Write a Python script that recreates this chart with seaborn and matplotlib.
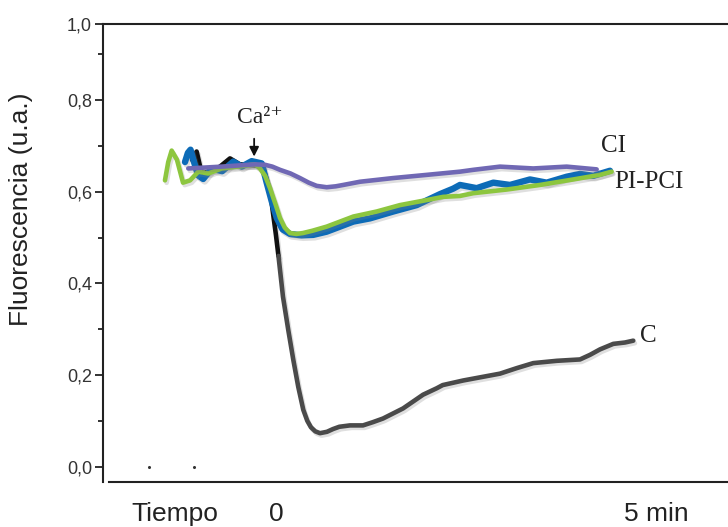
import matplotlib
matplotlib.use("Agg")
import matplotlib.pyplot as plt
import matplotlib.patheffects as pe
import seaborn as sns

# tiempo en minutos (0 = adición de Ca2+), fluorescencia en u.a.
ci_t = [-1.205, -0.746, -0.288, -0.15, -0.05, 0.055, 0.2, 0.33, 0.45, 0.559,
        0.696, 0.82, 0.924, 1.154, 1.607, 2.07, 2.527, 2.71, 3.077, 3.534,
        3.993, 4.405]
ci_v = [0.651, 0.655, 0.660, 0.659, 0.655, 0.648, 0.640, 0.630, 0.620, 0.613,
        0.610, 0.612, 0.615, 0.622, 0.630, 0.637, 0.644, 0.648, 0.655, 0.651,
        0.655, 0.649]

pcipc_t = [-1.525, -1.48, -1.433, -1.36, -1.277, -1.18, -1.067, -0.93, -0.746, -0.518,
           -0.288, -0.22, -0.15, -0.082, 0.0, 0.055, 0.12, 0.192, 0.28, 0.371,
           0.5, 0.696, 1.062, 1.383, 1.703, 2.07, 2.298, 2.527, 2.71, 3.169,
           3.626, 4.084, 4.45, 4.611]
pcipc_v = [0.625, 0.665, 0.690, 0.670, 0.620, 0.625, 0.644, 0.640, 0.651, 0.655,
           0.660, 0.651, 0.635, 0.608, 0.570, 0.543, 0.522, 0.510, 0.508, 0.510,
           0.515, 0.524, 0.546, 0.557, 0.571, 0.582, 0.589, 0.591, 0.597, 0.605,
           0.615, 0.627, 0.637, 0.644]

pi_t = [-1.25, -1.21, -1.174, -1.126, -1.07, -1.00, -0.883, -0.74, -0.587, -0.471,
        -0.334, -0.196, -0.128, -0.06, 0.01, 0.09, 0.192, 0.35, 0.512, 0.696,
        0.88, 1.062, 1.291, 1.611, 1.933, 2.253, 2.435, 2.527, 2.757, 2.985,
        3.214, 3.489, 3.718, 3.993, 4.176, 4.359, 4.588]
pi_v = [0.665, 0.685, 0.692, 0.665, 0.636, 0.628, 0.651, 0.645, 0.666, 0.655,
        0.667, 0.662, 0.620, 0.580, 0.543, 0.518, 0.508, 0.505, 0.506, 0.513,
        0.524, 0.535, 0.542, 0.557, 0.571, 0.595, 0.607, 0.615, 0.608, 0.620,
        0.615, 0.627, 0.620, 0.633, 0.639, 0.635, 0.646]

c_ini_t = [-1.154, -1.09, -1.02, -0.907, -0.77, -0.632, -0.495, -0.288, -0.18, -0.08, 0.0, 0.034]
c_ini_v = [0.670, 0.688, 0.640, 0.645, 0.655, 0.673, 0.660, 0.658, 0.655, 0.600, 0.505, 0.460]

c_t = [0.034, 0.096, 0.169, 0.238, 0.306, 0.375, 0.43, 0.48, 0.54, 0.604,
       0.70, 0.783, 0.87, 1.016, 1.195, 1.33, 1.47, 1.745, 2.02, 2.207,
       2.29, 2.57, 2.84, 3.077, 3.306, 3.534, 3.856, 4.176, 4.313, 4.451,
       4.633, 4.794, 4.908]
c_v = [0.460, 0.371, 0.298, 0.233, 0.174, 0.124, 0.100, 0.086, 0.077, 0.073,
       0.076, 0.082, 0.087, 0.090, 0.090, 0.097, 0.105, 0.127, 0.157, 0.171,
       0.178, 0.188, 0.196, 0.203, 0.215, 0.226, 0.231, 0.234, 0.244, 0.256,
       0.268, 0.271, 0.275]

ytick_vals = [0.0, 0.2, 0.4, 0.6, 0.8, 0.966]
ytick_labels = ["0,0", "0,2", "0,4", "0,6", "0,8", "1,0"]
yminor_vals = [0.1, 0.3, 0.5, 0.7, 0.9]
xtick_vals = [-1.39, 0.0, 5.23]
xtick_labels = ["Tiempo", "0", "5 min"]

sns.set_theme(style="white")
plt.rcParams['font.family'] = ['Liberation Sans', 'DejaVu Sans']
serif = ['Liberation Serif', 'DejaVu Serif']

fig = plt.figure(figsize=(7.28, 5.27), dpi=100)
ax = fig.add_axes([0.1415, 0.0846, 0.8585, 0.8695])

sombra = [pe.SimpleLineShadow(offset=(1.2, -1.8), shadow_color='0.5', alpha=0.25), pe.Normal()]
estilo = dict(sort=False, estimator=None, ax=ax, path_effects=sombra,
              solid_capstyle='round', solid_joinstyle='round')

# orden de dibujo: C abajo, luego PI, PCI-PI, CI encima
sns.lineplot(x=c_ini_t, y=c_ini_v, color='#111111', linewidth=3.3, **estilo)
sns.lineplot(x=c_t, y=c_v, color='#4a4a4a', linewidth=3.3, **estilo)
sns.lineplot(x=pi_t, y=pi_v, color='#0d6bb7', linewidth=4.6, **estilo)
sns.lineplot(x=pcipc_t, y=pcipc_v, color='#8dc63f', linewidth=3.3, **estilo)
sns.lineplot(x=ci_t, y=ci_v, color='#7068b4', linewidth=3.3, **estilo)

# dos puntitos sueltos sobre la línea base
ax.plot([-1.74, -1.13], [0.0, 0.0], 'o', ms=1.2, color='#333333')

ax.set_xlim(-2.376, 6.209)
ax.set_ylim(-0.0345, 0.966)

ax.set_yticks(ytick_vals)
ax.set_yticklabels(ytick_labels)
ax.set_yticks(yminor_vals, minor=True)
ax.tick_params(axis='y', which='major', left=True, length=6, width=1.3,
               color='#222222', direction='out', pad=2, labelsize=13, labelcolor='#333333')
ax.tick_params(axis='y', which='minor', left=True, length=3.6, width=1.3,
               color='#222222', direction='out')

ax.set_xticks(xtick_vals)
ax.set_xticklabels(xtick_labels)
ax.tick_params(axis='x', length=0, pad=14, labelsize=19, labelcolor='#222222')
ax.set_xlabel("")

ax.set_ylabel("Fluorescencia (u.a.)", fontsize=19, color='#222222')
ax.yaxis.set_label_coords(-0.112, 0.597)

for s in ['left', 'top', 'bottom']:
    ax.spines[s].set_color('#222222')
    ax.spines[s].set_linewidth(1.5)
ax.spines['right'].set_visible(False)
ax.spines['bottom'].set_bounds(-2.294, 6.209)

# anotaciones
ax.annotate("", xy=(-0.30, 0.671), xytext=(-0.30, 0.722),
            arrowprops=dict(arrowstyle='-|>', color='#111111', lw=1.3, mutation_scale=14))
ax.text(-0.22, 0.763, "Ca²⁺", ha='center', va='center', fontsize=17, family=serif, color='#222222')
ax.text(4.64, 0.700, "CI", ha='center', va='center', fontsize=18, family=serif, color='#222222')
ax.text(4.64, 0.622, "PI-PCI", ha='left', va='center', fontsize=18, family=serif, color='#222222')
ax.text(5.12, 0.285, "C", ha='center', va='center', fontsize=18, family=serif, color='#222222')

fig.savefig("out.png", dpi=100)
